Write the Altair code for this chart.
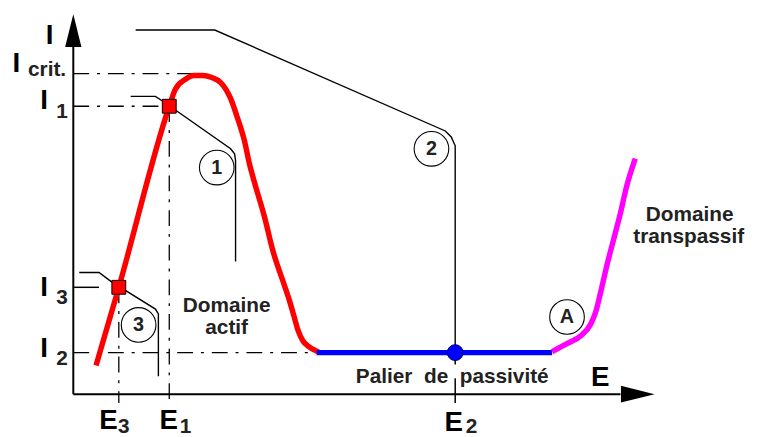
import altair as alt
import pandas as pd

# ---------------- schematic values (arbitrary units, origin = crossing of the axes)
I_crit, I_1, I_3, I_2 = 324, 291, 108, 42
E_3, E_1, E_2 = 46, 97, 386

# active branch (red)
active_E = [23, 46, 97, 103, 113, 122, 131, 140, 149, 159, 166, 173, 178, 184,
            193, 202, 213, 218, 223, 227, 232, 238, 243, 249]
active_I = [29, 108, 291, 308, 318, 322, 322, 320, 315, 299, 279, 256, 233, 211,
            180, 144, 111, 96, 79, 65, 54, 48, 45, 42]
# passive plateau (blue)
passive_E = [246, 484]
passive_I = [42, 42]
# transpassive branch (magenta)
transp_E = [484, 499, 513, 523, 528, 533, 539, 546, 553, 559, 568]
transp_I = [43, 51, 59, 71, 83, 103, 129, 156, 183, 209, 238]

# thin black curves 1, 2, 3
c1_E = [58, 83, 92, 159, 163, 164, 164]
c1_I = [301, 301, 295, 248, 243, 236, 134]
c2_E = [63, 143, 376, 382, 386, 386]
c2_I = [368, 368, 266, 260, 251, 42]
c3_E = [6, 26, 38, 83, 86, 86]
c3_I = [123, 123, 114, 86, 81, 18]

# circled labels
circ_text = ["1", "2", "3", "A"]
circ_E = [145, 362, 66, 499]
circ_I = [229, 248, 70, 78]

# tick-like labels
main_text = ["I", "I", "I", "I", "I", "E", "E", "E", "E"]
main_E = [-24, -57.5, -29.5, -29.5, -29.5, 35.5, 96.5, 384.5, 532.5]
main_I = [354, 326, 288, 99, 38, -35, -35, -37, 8]
sub_text = ["crit.", "1", "3", "2", "3", "1", "2"]
sub_E = [-26.5, -11.5, -11.5, -11.5, 51, 113.5, 402.5]
sub_I = [322, 279, 91, 29, -39, -39, -39]

# annotations
ann_text = ["Domaine", "actif", "Domaine", "transpassif",
            "Palier\u00a0\u00a0de\u00a0\u00a0passivité"]
ann_E = [155, 155, 623, 622, 383]
ann_I = [83, 61, 175, 153, 11]

# ---------------- tables
def poly(name, E, I):
    return pd.DataFrame({"curve": name, "E": E, "I": I, "idx": range(len(E))})

dd = pd.DataFrame({
    "E": [0, 0, 0, E_1, E_3],
    "I": [I_crit, I_1, I_2, I_1, I_3],
    "Ee": [128, 91, 246, E_1, E_3],
    "Ie": [I_crit, I_1, I_2, -9, -9],
})
solid = pd.DataFrame({
    "E": [0, E_2, E_2, 0, 0],
    "I": [I_3, I_2, 16, 0, 0],
    "Ee": [26, E_2, E_2, 553, 0],
    "Ie": [I_3, 30, -9, 0, 351],
    "w": [1.5, 1.5, 1.5, 2, 2],
})

xs = alt.Scale(domain=[-66, 688], nice=False, zero=False)
ys = alt.Scale(domain=[-41, 388], nice=False, zero=False)
X = alt.X("E:Q", scale=xs, axis=None)
Y = alt.Y("I:Q", scale=ys, axis=None)

font = "Liberation Sans"
ink = "#222222"

dd_layer = alt.Chart(dd).mark_rule(color="black", strokeWidth=1.3, strokeDash=[16, 8, 3, 8]).encode(
    x=X, y=Y, x2="Ee:Q", y2="Ie:Q")
solid_layer = alt.Chart(solid).mark_rule(color="black").encode(
    x=X, y=Y, x2="Ee:Q", y2="Ie:Q", strokeWidth=alt.StrokeWidth("w:Q", scale=None))

curves = pd.concat([poly("1", c1_E, c1_I), poly("2", c2_E, c2_I), poly("3", c3_E, c3_I)])
thin = alt.Chart(curves).mark_line(color="black", strokeWidth=1.4).encode(
    x=X, y=Y, detail="curve:N", order="idx:Q")

arrows = pd.DataFrame({"E": [0, 570.5], "I": [367.5, 0], "dir": ["up", "right"]})
arrow_up = alt.Chart(arrows[arrows.dir == "up"]).mark_point(
    shape="M0,-1L-0.5,1L0.5,1Z", filled=True, color="black", size=1089, opacity=1).encode(x=X, y=Y)
arrow_right = alt.Chart(arrows[arrows.dir == "right"]).mark_point(
    shape="M1,0L-1,-0.5L-1,0.5Z", filled=True, color="black", size=1156, opacity=1).encode(x=X, y=Y)

red = alt.Chart(poly("a", active_E, active_I)).mark_line(
    color="#FF0000", strokeWidth=5.5, interpolate="monotone").encode(x=X, y=Y, order="idx:Q")
blue = alt.Chart(poly("p", passive_E, passive_I)).mark_line(
    color="#0000FF", strokeWidth=5.5).encode(x=X, y=Y, order="idx:Q")
mag = alt.Chart(poly("t", transp_E, transp_I)).mark_line(
    color="#FF00FF", strokeWidth=5.5, interpolate="monotone").encode(x=X, y=Y, order="idx:Q")

squares = alt.Chart(pd.DataFrame({"E": [E_1, E_3], "I": [I_1, I_3]})).mark_point(
    shape="square", filled=True, fill="#FF0000", stroke="black", strokeWidth=1, size=196, opacity=1
).encode(x=X, y=Y)
dot = alt.Chart(pd.DataFrame({"E": [E_2], "I": [I_2]})).mark_point(
    shape="circle", filled=True, fill="#0000FF", stroke="#000066", strokeWidth=1, size=256, opacity=1
).encode(x=X, y=Y)

circ = pd.DataFrame({"t": circ_text, "E": circ_E, "I": circ_I})
rings = alt.Chart(circ).mark_point(shape="circle", filled=False, color="black",
                                   strokeWidth=1.1, size=1225, opacity=1).encode(x=X, y=Y)
ring_txt = alt.Chart(circ).mark_text(font=font, fontSize=20, fontWeight="bold", color=ink,
                                     baseline="middle", align="center").encode(x=X, y=Y, text="t:N")

main = alt.Chart(pd.DataFrame({"t": main_text, "E": main_E, "I": main_I})).mark_text(
    font=font, fontSize=28, fontWeight="bold", color="black", baseline="alphabetic", align="center"
).encode(x=X, y=Y, text="t:N")
sub = alt.Chart(pd.DataFrame({"t": sub_text, "E": sub_E, "I": sub_I})).mark_text(
    font=font, fontSize=21, fontWeight="bold", color=ink, baseline="alphabetic", align="center"
).encode(x=X, y=Y, text="t:N")
ann = alt.Chart(pd.DataFrame({"t": ann_text, "E": ann_E, "I": ann_I})).mark_text(
    font=font, fontSize=21, fontWeight="bold", color=ink, baseline="alphabetic", align="center"
).encode(x=X, y=Y, text="t:N")

chart = alt.layer(
    dd_layer, solid_layer, thin, arrow_up, arrow_right, red, blue, mag,
    squares, dot, rings, ring_txt, main, sub, ann
).properties(
    width=754, height=429, padding=0, autosize=alt.AutoSizeParams(type="none"),
    background="white"
).configure_view(stroke=None)

chart.save("out.html", embed_options={"renderer": "svg", "actions": False})
